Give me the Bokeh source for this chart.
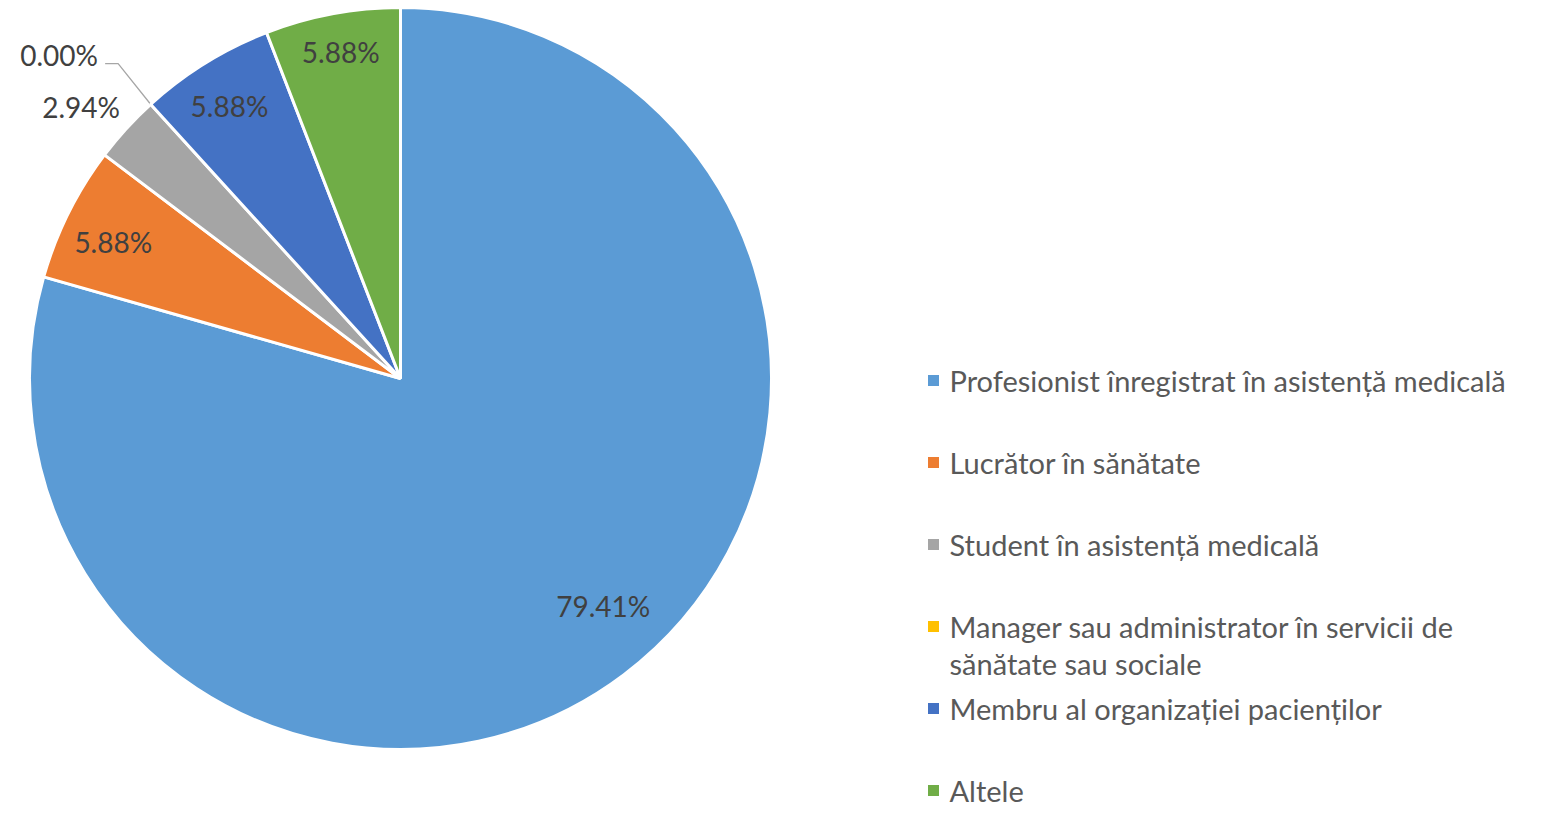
import math
from bokeh.plotting import figure
from bokeh.models import Range1d
from bokeh.core.properties import value
from bokeh.embed import file_html
from bokeh.resources import INLINE

# ---- data ----
categories = [
    "Profesionist înregistrat în asistență medicală",
    "Lucrător în sănătate",
    "Student în asistență medicală",
    "Manager sau administrator în servicii de\nsănătate sau sociale",
    "Membru al organizației pacienților",
    "Altele",
]
percent = [79.41, 5.88, 2.94, 0.00, 5.88, 5.88]
colors = ["#5B9BD5", "#ED7D31", "#A5A5A5", "#FFC000", "#4472C4", "#70AD47"]
# label placement styling (radial factor, angular shift in degrees)
label_radius_factor = [0.822, 0.857, 1.13, 1.13, 0.866, 0.894]
label_angle_shift = [4.6, 1.1, 2.0, 0.0, 0.4, -0.2]

W, H = 1526, 810
CX, CY, R = 400, H - 378, 371
FONT = "Lato"

p = figure(width=W, height=H, output_backend="svg", toolbar_location=None,
           x_range=Range1d(0, W), y_range=Range1d(0, H), min_border=0)
p.axis.visible = False
p.grid.visible = False
p.outline_line_color = None
p.background_fill_color = "white"

total = sum(percent)
cum = 0.0
for i, v in enumerate(percent):
    start = math.pi / 2 - 2 * math.pi * cum / total
    end = math.pi / 2 - 2 * math.pi * (cum + v) / total
    mid = (start + end) / 2 + math.radians(label_angle_shift[i])
    if v > 0:
        p.wedge(x=[CX], y=[CY], radius=R, start_angle=[end], end_angle=[start],
                fill_color=colors[i], line_color="white", line_width=3)
    rf = label_radius_factor[i]
    lx = CX + R * rf * math.cos(mid)
    ly = CY + R * rf * math.sin(mid)
    if v == 0:
        ex = CX + R * math.cos(mid)
        ey = CY + R * math.sin(mid)
        bx = CX + R * rf * math.cos(mid)
        by = CY + R * rf * math.sin(mid) + 5
        p.line(x=[ex, bx, bx - 13], y=[ey, by, by], line_color="#A6A6A6", line_width=1.3)
        lx = bx - 59
        ly = by + 9
    p.text(x=[lx], y=[ly], text=[f"{v:.2f}%"], text_align="center",
           text_baseline="middle", text_font=value(FONT), text_font_size="28px",
           text_color="#404040")
    cum += v

# ---- legend ----
LX_SQ, LX_TXT = 933, 949
row0 = H - 380
step = 82
line_step = 37
for i, lab in enumerate(categories):
    y = row0 - i * step
    p.rect(x=[LX_SQ], y=[y], width=11, height=11, fill_color=colors[i], line_color=None)
    for k, line in enumerate(lab.split("\n")):
        p.text(x=[LX_TXT], y=[y - k * line_step], text=[line], text_align="left",
               text_baseline="middle", text_font=value(FONT), text_font_size="29px",
               text_color="#595959")

open("out.html", "w").write(file_html(p, INLINE))
